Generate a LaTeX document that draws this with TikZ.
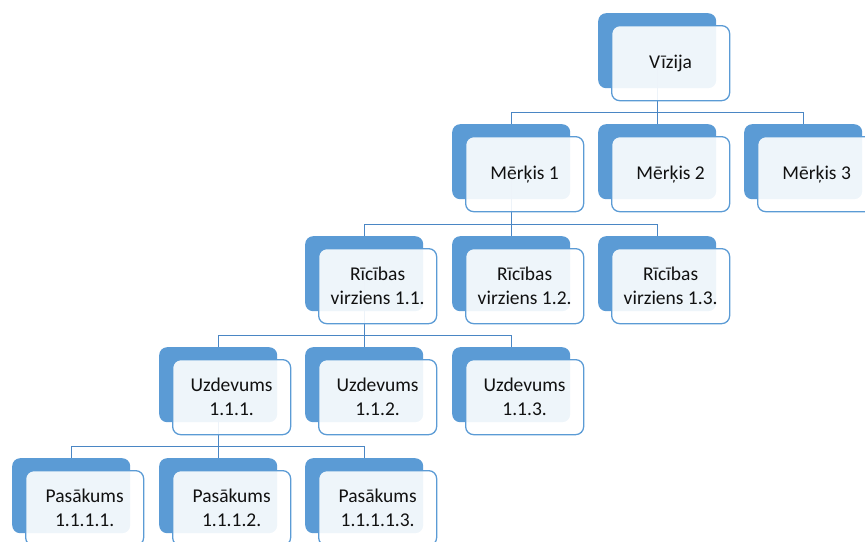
\documentclass[tikz,border=0pt]{standalone}
\usepackage{fontspec}
\setmainfont{Carlito}
\definecolor{accent}{HTML}{5B9BD5}
\definecolor{linkblue}{HTML}{4A86C4}
\definecolor{inktext}{HTML}{111111}
\tikzset{
  backbox/.style={fill=accent, draw=none, rounded corners=8pt, inner sep=0pt,
    minimum width=118pt, minimum height=75pt, anchor=north west},
  frontbox/.style={draw=accent, line width=1.3pt, fill=white, fill opacity=0.9,
    text opacity=1, rounded corners=8pt, inner sep=0pt,
    minimum width=118pt, minimum height=75pt, anchor=north west,
    align=center, text=inktext, font=\fontsize{19.5}{24}\selectfont},
  link/.style={draw=linkblue, line width=1.2pt}
}
% column / row origins of the blue back plates
\newcommand\colx[1]{\ifcase#1 12\or 159\or 305\or 452\or 598\or 744\fi}
\newcommand\rowy[1]{\ifcase#1 13\or 124\or 236\or 347\or 458\fi}
\newcommand\backplate[3]{\node[backbox] (#1) at (\colx{#2},\rowy{#3}) {};}
\newcommand\frontcard[4]{\node[frontbox] (#1) at ({\colx{#2}+13},{\rowy{#3}+12}) {#4};}
\newcommand\branch[2]{\draw[link] (#1.center) |- ([yshift=11.5pt]#2.north) -- (#2.north);}
\begin{document}
\begin{tikzpicture}[x=1pt,y=-1pt]
\useasboundingbox (0,0) rectangle (865,541);
% back plates
\backplate{v}{4}{0}
\backplate{m1}{3}{1}
\backplate{m2}{4}{1}
\backplate{m3}{5}{1}
\backplate{r1}{2}{2}
\backplate{r2}{3}{2}
\backplate{r3}{4}{2}
\backplate{u1}{1}{3}
\backplate{u2}{2}{3}
\backplate{u3}{3}{3}
\backplate{p1}{0}{4}
\backplate{p2}{1}{4}
\backplate{p3}{2}{4}
% connectors
\branch{v}{m1}
\branch{v}{m2}
\branch{v}{m3}
\branch{m1}{r1}
\branch{m1}{r2}
\branch{m1}{r3}
\branch{r1}{u1}
\branch{r1}{u2}
\branch{r1}{u3}
\branch{u1}{p1}
\branch{u1}{p2}
\branch{u1}{p3}
% front cards with labels
\frontcard{vt}{4}{0}{Vīzija}
\frontcard{m1t}{3}{1}{Mērķis 1}
\frontcard{m2t}{4}{1}{Mērķis 2}
\frontcard{m3t}{5}{1}{Mērķis 3}
\frontcard{r1t}{2}{2}{Rīcības\\virziens 1.1.}
\frontcard{r2t}{3}{2}{Rīcības\\virziens 1.2.}
\frontcard{r3t}{4}{2}{Rīcības\\virziens 1.3.}
\frontcard{u1t}{1}{3}{Uzdevums\\1.1.1.}
\frontcard{u2t}{2}{3}{Uzdevums\\1.1.2.}
\frontcard{u3t}{3}{3}{Uzdevums\\1.1.3.}
\frontcard{p1t}{0}{4}{Pasākums\\1.1.1.1.}
\frontcard{p2t}{1}{4}{Pasākums\\1.1.1.2.}
\frontcard{p3t}{2}{4}{Pasākums\\1.1.1.1.3.}
\end{tikzpicture}
\end{document}
